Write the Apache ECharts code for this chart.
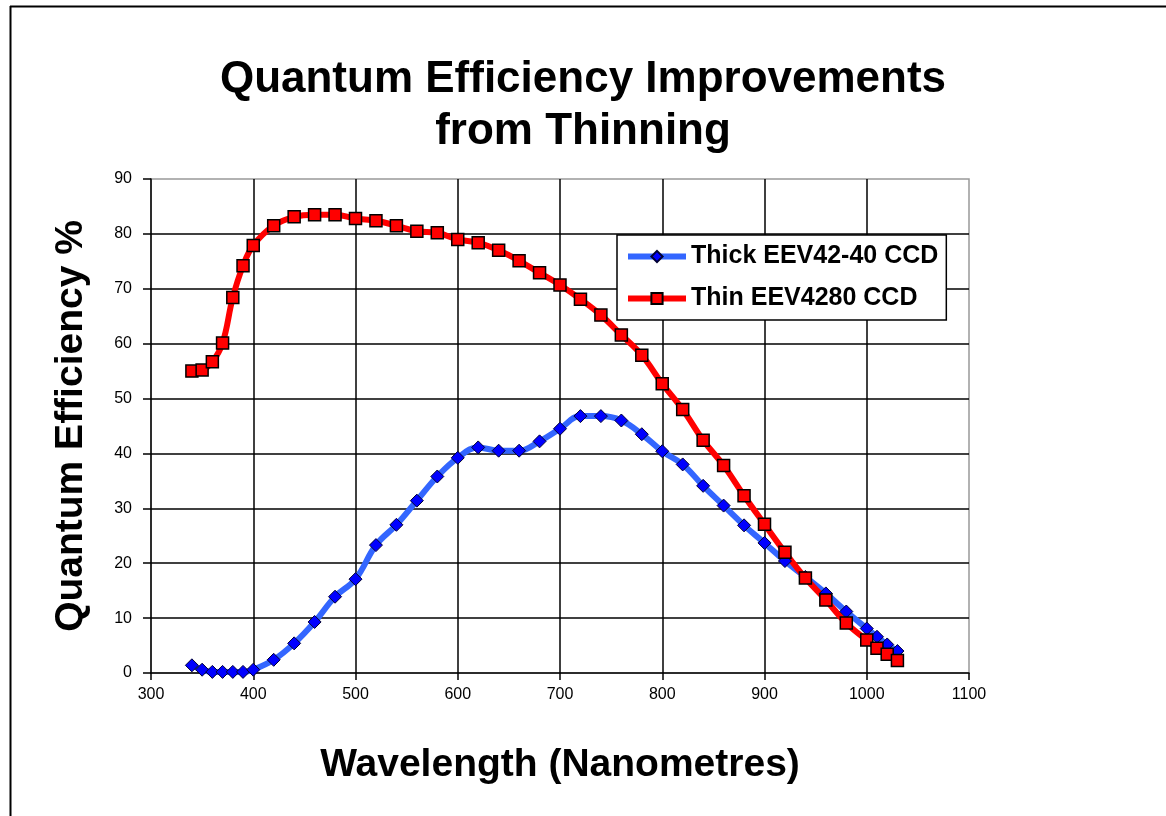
<!DOCTYPE html>
<html>
<head>
<meta charset="utf-8">
<style>
  html, body { margin: 0; padding: 0; background: #fff; }
  #chart { width: 1166px; height: 816px; }
</style>
<script src="https://cdn.jsdelivr.net/npm/echarts@6/dist/echarts.min.js"></script>
</head>
<body>
<div id="chart"></div>
<script>
// wavelengths (nm) shared by both curves
const wavelengths = [340, 350, 360, 370, 380, 390, 400, 420, 440, 460, 480, 500, 520, 540, 560, 580, 600, 620, 640, 660,
    680, 700, 720, 740, 760, 780, 800, 820, 840, 860, 880, 900, 920, 940, 960, 980, 1000, 1010, 1020, 1030];

// Quantum efficiency %
const thickQE = [1.4, 0.6, 0.2, 0.2, 0.2, 0.2, 0.6, 2.4, 5.4, 9.3, 13.9, 17.1, 23.3, 27.0, 31.4, 35.8, 39.2, 41.1, 40.5, 40.5,
    42.2, 44.5, 46.8, 46.8, 46.0, 43.5, 40.4, 38.0, 34.1, 30.5, 26.9, 23.7, 20.4, 17.5, 14.5, 11.2, 8.1, 6.6, 5.2, 4.0];
const thinQE = [55.0, 55.2, 56.7, 60.1, 68.4, 74.2, 77.9, 81.5, 83.1, 83.5, 83.5, 82.8, 82.4, 81.5, 80.5, 80.2, 79.0, 78.4, 77.0, 75.1,
    72.9, 70.7, 68.1, 65.2, 61.6, 57.9, 52.7, 48.0, 42.4, 37.8, 32.3, 27.1, 22.0, 17.3, 13.3, 9.1, 6.0, 4.5, 3.4, 2.3];

const seriesNames = ["Thick EEV42-40 CCD", "Thin EEV4280 CCD"];

const FONT = "'Liberation Sans', Arial, sans-serif";

const chart = echarts.init(document.getElementById("chart"));

const option = {
    backgroundColor: "#fff",
    animation: false,
    title: {
        text: "Quantum Efficiency Improvements\nfrom Thinning",
        left: "center",
        top: 49,
        textStyle: {
            fontFamily: FONT,
            fontSize: 44,
            fontWeight: "bold",
            color: "#000",
            lineHeight: 52,
        },
    },
    legend: {
        orient: "vertical",
        left: 617,
        top: 235,
        padding: [9, 8, 9, 8],
        itemGap: 17,
        itemWidth: 58,
        itemHeight: 14,
        backgroundColor: "#fff",
        borderColor: "#000",
        borderWidth: 1.5,
        borderRadius: 0,
        lineStyle: { width: 6 },
        textStyle: {
            fontFamily: FONT,
            fontSize: 25,
            fontWeight: "bold",
            color: "#000",
        },
        data: seriesNames,
    },
    graphic: [
        // outer frame (top and left edges only)
        { type: "line", shape: { x1: 10, y1: 6.5, x2: 1166, y2: 6.5 }, style: { stroke: "#000", lineWidth: 2 } },
        { type: "line", shape: { x1: 10.5, y1: 6, x2: 10.5, y2: 816 }, style: { stroke: "#000", lineWidth: 2 } },
    ],
    grid: {
        left: 151,
        right: 197,
        top: 179,
        bottom: 143,
        show: true,
        borderColor: "#999",
        borderWidth: 1.5,
        backgroundColor: "#fff",
    },
    xAxis: {
        type: "value",
        min: 300,
        max: 1100,
        interval: 100,
        name: "Wavelength (Nanometres)",
        nameLocation: "middle",
        nameGap: 73,
        nameTextStyle: {
            fontFamily: FONT,
            fontSize: 39,
            fontWeight: "bold",
            color: "#000",
        },
        axisLine: { show: true, lineStyle: { color: "#000", width: 1.5 } },
        axisTick: { show: true, length: 7, lineStyle: { color: "#000", width: 1.5 } },
        axisLabel: { fontFamily: FONT, fontSize: 16, color: "#000", margin: 14, formatter: (v) => String(v) },
        splitLine: { show: true, showMinLine: false, showMaxLine: false, lineStyle: { color: "#000", width: 1.5 } },
    },
    yAxis: {
        type: "value",
        min: 0,
        max: 90,
        interval: 10,
        name: "Quantum Efficiency %",
        nameLocation: "middle",
        nameGap: 60,
        nameTextStyle: {
            fontFamily: FONT,
            fontSize: 39,
            fontWeight: "bold",
            color: "#000",
        },
        axisLine: { show: true, lineStyle: { color: "#000", width: 1.5 } },
        axisTick: { show: true, length: 8, lineStyle: { color: "#000", width: 1.5 } },
        axisLabel: { fontFamily: FONT, fontSize: 16, color: "#000", margin: 19 },
        splitLine: { show: true, showMinLine: false, showMaxLine: false, lineStyle: { color: "#000", width: 1.5 } },
    },
    series: [
        {
            name: seriesNames[0],
            type: "line",
            smooth: 0.4,
            data: wavelengths.map((w, i) => [w, thickQE[i]]),
            symbol: "diamond",
            symbolSize: 13,
            lineStyle: { color: "#3366ff", width: 6 },
            itemStyle: { color: "#0000ff", borderColor: "#000033", borderWidth: 1 },
        },
        {
            name: seriesNames[1],
            type: "line",
            smooth: 0.4,
            data: wavelengths.map((w, i) => [w, thinQE[i]]),
            symbol: "rect",
            symbolSize: 12,
            lineStyle: { color: "#ff0000", width: 6 },
            itemStyle: { color: "#ff0000", borderColor: "#000", borderWidth: 1.5 },
        },
    ],
};

chart.setOption(option);
</script>
</body>
</html>
